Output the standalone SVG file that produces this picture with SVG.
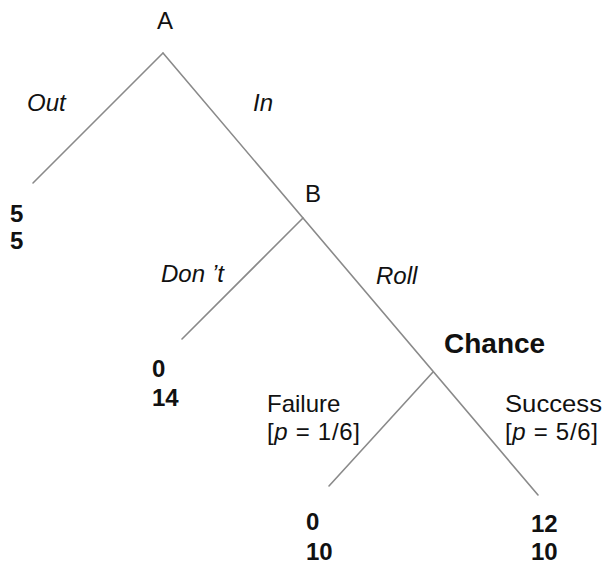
<svg xmlns="http://www.w3.org/2000/svg" width="604" height="566" viewBox="0 0 604 566">
<style>
.edge{stroke:#8a8a8a;stroke-width:1.6;fill:none;stroke-linecap:round}
text{font-family:"Liberation Sans",Arial,sans-serif;fill:#111;font-size:24px}
.it{font-style:italic}
.b{font-weight:bold}
</style>
<rect width="604" height="566" fill="#fff"/>
<g id="connectors">
<line class="edge" x1="163" y1="53" x2="33" y2="183"/>
<line class="edge" x1="163" y1="53" x2="538" y2="495"/>
<line class="edge" x1="303" y1="218" x2="182" y2="339"/>
<line class="edge" x1="433" y1="372" x2="329" y2="486"/>
<text class="it" x="27" y="111">Out</text>
<text class="it" x="253" y="111">In</text>
<text class="it" x="161" y="282">Don<tspan dx="7">’t</tspan></text>
<text class="it" x="376" y="284">Roll</text>
<text x="267" y="412">Failure</text>
<text x="267" y="440" textLength="93" lengthAdjust="spacing">[<tspan class="it">p</tspan> = 1/6]</text>
<text x="505" y="412" textLength="97" lengthAdjust="spacingAndGlyphs">Success</text>
<text x="505" y="440" textLength="93" lengthAdjust="spacing">[<tspan class="it">p</tspan> = 5/6]</text>
</g>
<g id="nodeA"><text x="157" y="29">A</text></g>
<g id="nodeB"><text x="305" y="202">B</text></g>
<g id="nodeChance"><text class="b" x="444" y="353" style="font-size:28px">Chance</text></g>
<g id="payoffOut"><text class="b" x="10" y="222">5</text><text class="b" x="10" y="249">5</text></g>
<g id="payoffDont"><text class="b" x="152" y="377">0</text><text class="b" x="152" y="406">14</text></g>
<g id="payoffFailure"><text class="b" x="306" y="530">0</text><text class="b" x="306" y="560">10</text></g>
<g id="payoffSuccess"><text class="b" x="531" y="532">12</text><text class="b" x="531" y="560">10</text></g>
</svg>
